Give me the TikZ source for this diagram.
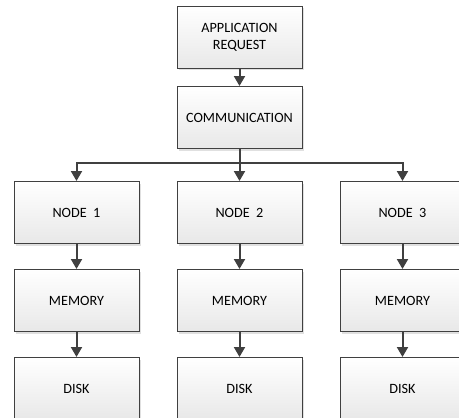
\documentclass[tikz,border=0pt]{standalone}
\usepackage{fontspec}
\setmainfont{Carlito}
\usetikzlibrary{arrows.meta,shadows}
\definecolor{edge}{HTML}{404040}
\tikzset{
  box/.style={draw=edge, line width=1pt, minimum width=125pt, minimum height=62pt,
    top color=white, bottom color=black!9, align=center, inner sep=2pt,
    font=\fontsize{14.2}{17}\selectfont,
    drop shadow={shadow xshift=2pt, shadow yshift=-2pt, fill=black!12, opacity=1}},
  conn/.style={draw=edge, line width=2pt, -{Triangle[width=11pt,length=10pt]}},
}
\begin{document}
\begin{tikzpicture}[x=1pt,y=-1pt]
\clip (0,0) rectangle (459,418);
\fill[white] (0,0) rectangle (459,418);
\node[box] (app) at (239.5,37) {APPLICATION\\REQUEST};
\node[box] (comm) at (239.5,117.5) {COMMUNICATION};
\node[box] (n1) at (76.5,212.5) {NODE\ \ 1};
\node[box] (n2) at (239.5,212.5) {NODE\ \ 2};
\node[box] (n3) at (402.5,212.5) {NODE\ \ 3};
\node[box] (m1) at (76.5,300.5) {MEMORY};
\node[box] (m2) at (239.5,300.5) {MEMORY};
\node[box] (m3) at (402.5,300.5) {MEMORY};
\node[box] (d1) at (76.5,388.5) {DISK};
\node[box] (d2) at (239.5,388.5) {DISK};
\node[box] (d3) at (402.5,388.5) {DISK};
\coordinate (split) at (239.5,162.5);
\draw[conn] (app) -- (comm);
\draw[draw=edge, line width=2pt] (comm.south) -- (split);
\draw[conn] (split) -| (n1.north);
\draw[conn] (split) -- (n2.north);
\draw[conn] (split) -| (n3.north);
\draw[conn] (n1) -- (m1);
\draw[conn] (n2) -- (m2);
\draw[conn] (n3) -- (m3);
\draw[conn] (m1) -- (d1);
\draw[conn] (m2) -- (d2);
\draw[conn] (m3) -- (d3);
\end{tikzpicture}
\end{document}
